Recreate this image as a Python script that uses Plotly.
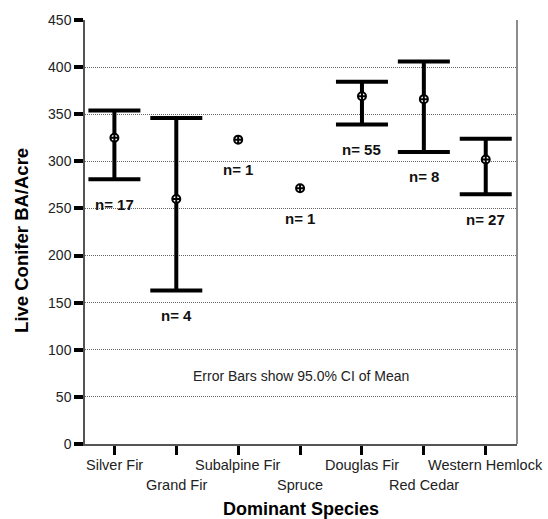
import plotly.graph_objects as go

# ---- data ----
species = ["Silver Fir", "Grand Fir", "Subalpine Fir", "Spruce",
           "Douglas Fir", "Red Cedar", "Western Hemlock"]
means = [325, 260, 323, 271.5, 369, 366, 302]
upper = [354, 346, None, None, 384.5, 406, 324]
lower = [281, 163, None, None, 339, 310, 265]
n_obs = [17, 4, 1, 1, 55, 8, 27]

FONT = "Liberation Sans, Arial, sans-serif"

x_idx = list(range(len(species)))
err_plus = [(u - m) if u is not None else 0 for u, m in zip(upper, means)]
err_minus = [(m - l) if l is not None else 0 for l, m in zip(lower, means)]
has_ci = [u is not None for u in upper]

fig = go.Figure()

# error bars (only where CI exists)
fig.add_trace(go.Scatter(
    x=[x for x, h in zip(x_idx, has_ci) if h],
    y=[m for m, h in zip(means, has_ci) if h],
    mode="markers",
    marker=dict(size=1, color="rgba(0,0,0,0)"),
    error_y=dict(type="data", symmetric=False,
                 array=[e for e, h in zip(err_plus, has_ci) if h],
                 arrayminus=[e for e, h in zip(err_minus, has_ci) if h],
                 color="black", thickness=4, width=26),
    hoverinfo="skip", showlegend=False,
))

# mean markers
fig.add_trace(go.Scatter(
    x=x_idx, y=means, mode="markers",
    marker=dict(symbol="circle-cross", size=8, color="white",
                line=dict(color="black", width=2)),
    showlegend=False,
))

annotations = []
# n labels below lower bound (or below mean)
for x, m, l, n in zip(x_idx, means, lower, n_obs):
    base = l if l is not None else m
    shift = -25 if l is not None else -30
    annotations.append(dict(
        x=x, y=base, xref="x", yref="y", text=f"<b>n= {n}</b>", showarrow=False,
        yshift=shift, xanchor="center", yanchor="middle",
        font=dict(family=FONT, size=15, color="#111"),
    ))

# staggered category labels
for x, s in zip(x_idx, species):
    annotations.append(dict(
        x=x, y=0, xref="x", yref="paper", text=s, showarrow=False,
        xanchor="center", yanchor="middle",
        yshift=-21 if x % 2 == 0 else -41,
        font=dict(family=FONT, size=14.5, color="#222"),
    ))

annotations += [
    dict(x=0.5, y=0, xref="paper", yref="paper", text="<b>Dominant Species</b>",
         showarrow=False, xanchor="center", yanchor="middle", yshift=-65,
         font=dict(family=FONT, size=18, color="black")),
    dict(x=0, y=0.479, xref="paper", yref="paper", text="<b>Live Conifer BA/Acre</b>",
         showarrow=False, textangle=-90, xanchor="center", yanchor="middle",
         xshift=-63, font=dict(family=FONT, size=18.5, color="black")),
    dict(x=0.5, y=72, xref="paper", yref="y", text="Error Bars show 95.0% CI of Mean",
         showarrow=False, xanchor="center", yanchor="middle",
         font=dict(family=FONT, size=14, color="#222")),
]

fig.update_layout(
    width=548, height=519,
    margin=dict(l=85, r=31, t=12, b=75),
    paper_bgcolor="white", plot_bgcolor="white",
    annotations=annotations,
    shapes=[dict(type="line", xref="paper", yref="paper", x0=1, x1=1, y0=0, y1=1,
                 line=dict(color="#666", width=1.5))],
    showlegend=False,
)
fig.update_xaxes(
    range=[-0.475, 6.505], tickvals=x_idx, showticklabels=False,
    ticks="outside", ticklen=9, tickwidth=3, tickcolor="black",
    showgrid=False, zeroline=False, showline=True, linecolor="#555", linewidth=1.5,
)
fig.update_yaxes(
    range=[0, 450], tickvals=[0, 50, 100, 150, 200, 250, 300, 350, 400, 450],
    ticks="outside", ticklen=9, tickwidth=3.5, tickcolor="black",
    tickfont=dict(family=FONT, size=14, color="#222"),
    showgrid=True, gridcolor="#666", griddash="1px,1px", gridwidth=1,
    zeroline=False, showline=True, linecolor="#555", linewidth=1.5,
)

fig.write_html("out.html")
